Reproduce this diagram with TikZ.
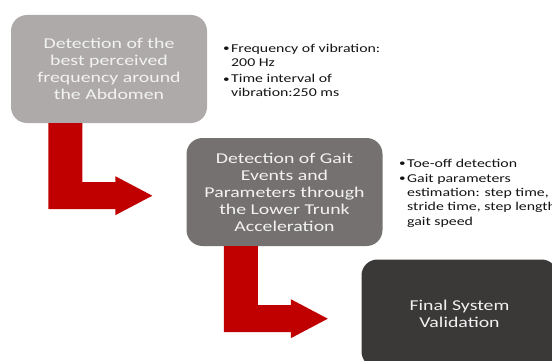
\documentclass[tikz,border=0pt]{standalone}
\usepackage{fontspec}
\usetikzlibrary{calc}
\setmainfont{Carlito}
\newfontfamily\widefont[FakeStretch=1.32]{Carlito}
\definecolor{stageA}{HTML}{AEAAAA}
\definecolor{stageB}{HTML}{767171}
\definecolor{stageC}{HTML}{3B3838}
\definecolor{stagetext}{HTML}{F2F2F2}
\definecolor{arrowred}{HTML}{C00000}
\definecolor{notetext}{HTML}{141414}
% bullet paragraph with a hanging indent and a small round bullet
\newcommand\notebullet{\makebox[9pt][l]{\hspace{1pt}\raisebox{0.6pt}{\fontsize{10}{10}\selectfont\textbullet}}}
\newcommand\noteitem[1]{\par\hangindent=9pt\hangafter=1\noindent\notebullet#1}
\tikzset{
  stage/.style={rounded corners=16pt, minimum width=196pt, minimum height=108pt,
    inner sep=0pt, align=center, text=stagetext,
    font=\widefont\fontsize{15}{17}\selectfont},
  notes/.style={inner sep=0pt, anchor=base west, text=notetext,
    font=\widefont\fontsize{12}{13.8}\selectfont},
  pics/bentarrow/.style={code={
    \fill[arrowred] (0,0) -- (34,0) -- (34,59) -- (67,59) -- (67,53)
      -- (104,72.5) -- (67,92) -- (67,86) -- (0,86) -- cycle;}}
}
\begin{document}
\begin{tikzpicture}[x=1pt,y=-1pt]
\useasboundingbox (0,0) rectangle (552,361);
\clip (0,0) rectangle (552,361);

% process stages
\node[stage, fill=stageA] (s1) at (109,69)
  {Detection of the\\best perceived\\frequency around\\the Abdomen};
\node[stage, fill=stageB] (s2) at (284.5,192)
  {Detection of Gait\\Events and\\Parameters through\\the Lower Trunk\\Acceleration};
\node[stage, fill=stageC] (s3) at (459.5,313.5)
  {Final System\\Validation};

% bent arrows leading from one stage to the next
\pic at ($(s1.south west)+(37.5,0)$) {bentarrow};
\pic at ($(s2.south west)+(37.5,0)$) {bentarrow};

% stage details
\node[notes] (n1) at (222,52.5) {\parbox[t]{180pt}{\setlength{\parskip}{2.5pt}%
  \noteitem{Frequency of vibration:\\200 Hz}%
  \noteitem{Time interval of\\vibration:250 ms}}};
\node[notes, font=\widefont\fontsize{12}{14.3}\selectfont] (n2) at (398,167)
  {\parbox[t]{180pt}{\setlength{\parskip}{1pt}%
  \noteitem{Toe-off detection}%
  \noteitem{Gait parameters\\estimation: step time,\\stride time, step length,\\gait speed}}};
\end{tikzpicture}
\end{document}
